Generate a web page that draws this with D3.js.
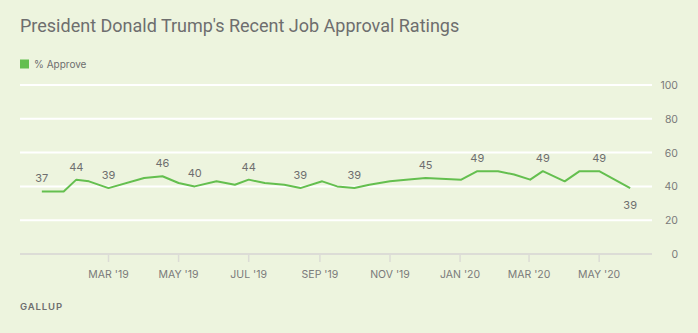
<!DOCTYPE html>
<html>
<head>
<meta charset="utf-8">
<script src="https://cdn.jsdelivr.net/npm/d3@7"></script>
<style>
    html, body { margin: 0; padding: 0; background: #edf4de; }
    svg { display: block; }
</style>
</head>
<body>
<div id="chart"></div>
<script>
// poll start dates (fieldwork start) and % approve
const pollDates = [
    '2019-01-02', '2019-01-21', '2019-02-01', '2019-02-12', '2019-03-01',
    '2019-04-01', '2019-04-17', '2019-05-01', '2019-05-15', '2019-06-03',
    '2019-06-19', '2019-07-01', '2019-07-15', '2019-08-01', '2019-08-15',
    '2019-09-03', '2019-09-16', '2019-10-01', '2019-10-14', '2019-11-01',
    '2019-11-15', '2019-12-02', '2020-01-02', '2020-01-16', '2020-02-03',
    '2020-02-17', '2020-03-02', '2020-03-13', '2020-04-01', '2020-04-14',
    '2020-05-01', '2020-05-28'
];
const approve = [
    37, 37, 44, 43, 39,
    45, 46, 42, 40, 43,
    41, 44, 42, 41, 39,
    43, 40, 39, 41, 43,
    44, 45, 44, 49, 49,
    47, 44, 49, 43, 49,
    49, 39
];
// which polls get a value label
const labelled = [0, 2, 4, 6, 8, 11, 14, 17, 21, 23, 27, 30, 31];
const tickDates = ['2019-03-01', '2019-05-01', '2019-07-01', '2019-09-01', '2019-11-01', '2020-01-01', '2020-03-01', '2020-05-01'];
const yTicks = [0, 20, 40, 60, 80, 100];

const width = 698,
    height = 333,
    margin = { top: 85, right: 46, bottom: 79, left: 20 },
    font = 'Inter, Roboto, sans-serif',
    green = '#64bf4f';

let parse = d3.timeParse('%Y-%m-%d'),
    fmt = d3.timeFormat("%b '%y"),
    data = pollDates.map((d, i) => ({ date: parse(d), value: approve[i] })),
    svg,
    x,
    y;

svg = d3.select('#chart')
    .append('svg')
        .attr('width', width)
        .attr('height', height)
        .style('font-family', font);

svg.append('rect')
    .attr('width', width)
    .attr('height', height)
    .attr('fill', '#edf4de');

x = d3.scaleTime()
    .domain([parse('2018-12-14'), parse('2020-06-16')])
    .range([margin.left, width - margin.right]);

y = d3.scaleLinear()
    .domain([0, 100])
    .range([height - margin.bottom, margin.top]);

// title + legend
svg.append('text')
    .attr('x', 20)
    .attr('y', 32)
    .attr('fill', '#6e6e6e')
    .style('font-family', 'Roboto, sans-serif')
    .style('font-size', '18px')
    .text("President Donald Trump's Recent Job Approval Ratings");

svg.append('rect')
    .attr('x', 20)
    .attr('y', 59.5)
    .attr('width', 9)
    .attr('height', 9)
    .attr('fill', green);

svg.append('text')
    .attr('x', 34)
    .attr('y', 67.7)
    .attr('fill', '#6e6e6e')
    .style('font-size', '10px')
    .text('% Approve');

// horizontal grid, zero line in grey
svg.append('g')
    .selectAll('line')
    .data(yTicks)
    .enter()
    .append('line')
        .attr('x1', margin.left)
        .attr('x2', width - margin.right)
        .attr('y1', d => y(d))
        .attr('y2', d => y(d))
        .attr('stroke', d => d === 0 ? '#dcdcd6' : '#ffffff')
        .attr('stroke-width', 2);

svg.append('g')
    .selectAll('text')
    .data(yTicks)
    .enter()
    .append('text')
        .attr('x', 678)
        .attr('y', d => y(d) + 4)
        .attr('text-anchor', 'end')
        .attr('fill', '#7a7a7a')
        .style('font-size', '10.5px')
        .text(d => d);

// x ticks
let xTickG = svg.append('g')
    .selectAll('g')
    .data(tickDates.map(parse))
    .enter()
    .append('g')
        .attr('transform', d => 'translate(' + x(d) + ',0)');

xTickG.append('line')
    .attr('y1', y(0))
    .attr('y2', y(0) + 8)
    .attr('stroke', '#dcdcd6')
    .attr('stroke-width', 1.5);

xTickG.append('text')
    .attr('y', 278)
    .attr('text-anchor', 'middle')
    .attr('fill', '#7a7a7a')
    .style('font-size', '10.5px')
    .text(d => fmt(d).toUpperCase());

// approval line
svg.append('path')
    .datum(data)
    .attr('fill', 'none')
    .attr('stroke', green)
    .attr('stroke-width', 2)
    .attr('stroke-linejoin', 'round')
    .attr('d', d3.line().x(d => x(d.date)).y(d => y(d.value)));

svg.append('g')
    .selectAll('text')
    .data(labelled.map(i => data[i]))
    .enter()
    .append('text')
        .attr('x', d => x(d.date))
        .attr('y', (d, i) => i === labelled.length - 1 ? y(d.value) + 21 : y(d.value) - 9)
        .attr('text-anchor', 'middle')
        .attr('fill', '#6e6e6e')
        .style('font-size', '11px')
        .text(d => d.value);

svg.append('text')
    .attr('x', 20)
    .attr('y', 309.5)
    .attr('fill', '#6e6e6e')
    .style('font-size', '9.5px')
    .style('font-weight', 600)
    .style('letter-spacing', '0.9px')
    .text('GALLUP');
</script>
</body>
</html>
